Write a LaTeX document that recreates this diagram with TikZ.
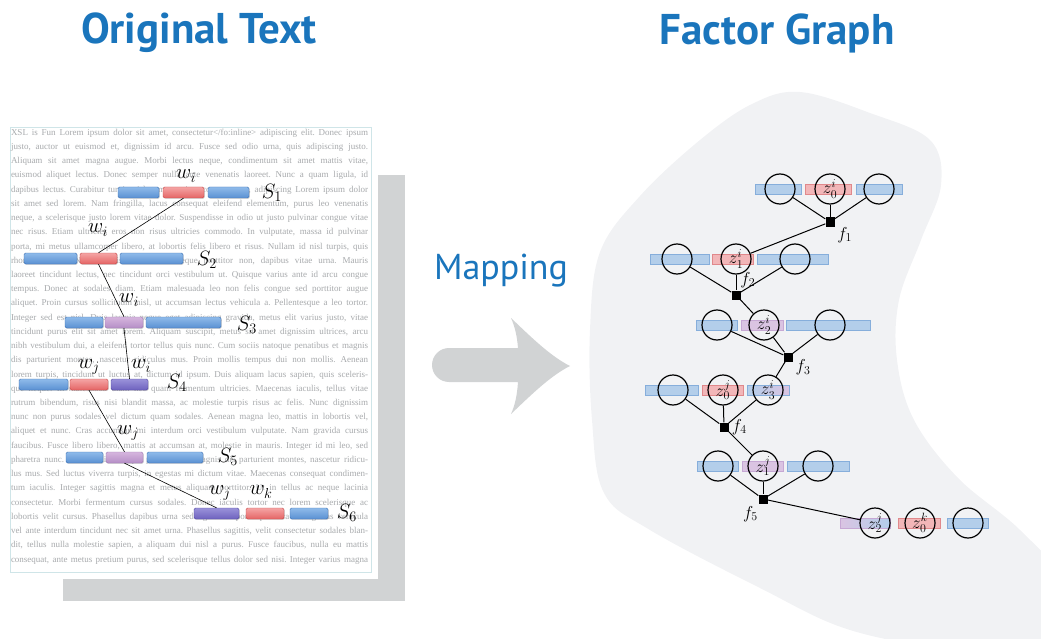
\documentclass[tikz,border=0pt]{standalone}
\usepackage{fontspec}
\newfontfamily\headfont{PT Sans}
\newfontfamily\pagefont{Liberation Serif}
\usetikzlibrary{positioning}
\usetikzlibrary{shapes}
\usetikzlibrary{shadows}
\usetikzlibrary{calc}
\definecolor{headblue}{HTML}{1A75BC}
\definecolor{shadegray}{HTML}{D1D3D4}
\definecolor{pageedge}{HTML}{CFE5E8}
\definecolor{pagetext}{HTML}{A8AAAD}
\definecolor{blobgray}{HTML}{F1F2F4}
\definecolor{wbluetop}{HTML}{8FBBEA}
\definecolor{wbluebot}{HTML}{5A90D2}
\definecolor{wblueedge}{HTML}{3F73B5}
\definecolor{wredtop}{HTML}{F5A5A5}
\definecolor{wredbot}{HTML}{E46464}
\definecolor{wrededge}{HTML}{C84848}
\definecolor{wpurptop}{HTML}{D6B6DE}
\definecolor{wpurpbot}{HTML}{B58EC6}
\definecolor{wpurpedge}{HTML}{9E7AB4}
\definecolor{wdarktop}{HTML}{9A92DA}
\definecolor{wdarkbot}{HTML}{6E62BE}
\definecolor{wdarkedge}{HTML}{5248A2}
\definecolor{sblue}{HTML}{B3CEEA}
\definecolor{sblueedge}{HTML}{86AEDB}
\definecolor{sred}{HTML}{F2B6B8}
\definecolor{srededge}{HTML}{E0888B}
\definecolor{spurp}{HTML}{DAC4E2}
\definecolor{spurpedge}{HTML}{C6A8D4}
\tikzset{%
    head/.style={font={\headfont\bfseries\fontsize{43}{50}\selectfont},text=headblue,inner sep=0pt},
    maplab/.style={font={\headfont\fontsize{36}{42}\selectfont},text=headblue,inner sep=0pt},
    pageline/.style={font={\pagefont\frenchspacing\fontsize{9}{10}\selectfont},text=pagetext,inner sep=0pt},
    wordbox/.style={rectangle,rounded corners=1.5pt,minimum height=11pt,inner sep=0pt,
        drop shadow={shadow xshift=.8pt,shadow yshift=-.8pt,opacity=.3}},
    wblue/.style={wordbox,draw=wblueedge,top color=wbluetop,bottom color=wbluebot},
    wred/.style={wordbox,draw=wrededge,top color=wredtop,bottom color=wredbot},
    wpurp/.style={wordbox,draw=wpurpedge,top color=wpurptop,bottom color=wpurpbot},
    wdark/.style={wordbox,draw=wdarkedge,top color=wdarktop,bottom color=wdarkbot},
    wlab/.style={font={\fontsize{22}{26}\selectfont},inner sep=0pt},
    wlink/.style={semithick},
    seg/.style={rectangle,minimum height=10pt,inner sep=0pt,line width=.6pt},
    sblue/.style={seg,draw=sblueedge,fill=sblue},
    sred/.style={seg,draw=srededge,fill=sred},
    spurp/.style={seg,draw=spurpedge,fill=spurp},
    var/.style={circle,draw,line width=1.2pt,minimum size=30pt,inner sep=0pt,font={\fontsize{17}{20}\selectfont}},
    factor/.style={rectangle,fill=black,minimum size=9pt,inner sep=0pt},
    flab/.style={font={\fontsize{18}{21}\selectfont},inner sep=0pt,label distance=3pt},
    fedge/.style={line width=1pt},
}
\begin{document}
\begin{tikzpicture}[x=1pt,y=-1pt]
\useasboundingbox (0,0) rectangle (1041,639);
\node[head] (ttl1) at (199,33) {Original Text};
\node[head] (ttl2) at (777,33) {Factor Graph};
\node[maplab] (map) at (501,271) {Mapping};

% the page of text
\fill[shadegray] (63,175) rectangle (405,601);
\fill[white] (5,122) rectangle (378,579);
\draw[pageedge] (10,127) rectangle (371,572);
\foreach \ln [count=\k] in {%
  {XSL is Fun Lorem ipsum dolor sit amet, consectetur</fo:inline> adipiscing elit. Donec ipsum},
  {justo, auctor ut euismod et, dignissim id arcu. Fusce sed odio urna, quis adipiscing justo.},
  {Aliquam sit amet magna augue. Morbi lectus neque, condimentum sit amet mattis vitae,},
  {euismod aliquet lectus. Donec semper nulla ante venenatis laoreet. Nunc a quam ligula, id},
  {dapibus lectus. Curabitur turpis nisl, tempor vitae consequat at, adipiscing Lorem ipsum dolor},
  {sit amet sed lorem. Nam fringilla, lacus consequat eleifend elementum, purus leo venenatis},
  {neque, a scelerisque justo lorem vitae dolor. Suspendisse in odio ut justo pulvinar congue vitae},
  {nec risus. Etiam ultricies eros non risus ultricies commodo. In vulputate, massa id pulvinar},
  {porta, mi metus ullamcorper libero, at lobortis felis libero et risus. Nullam id nisl turpis, quis},
  {rhoncus lectus. Nulla facilisi. Sed vitae neque porttitor non, dapibus vitae urna. Mauris},
  {laoreet tincidunt lectus, nec tincidunt orci vestibulum ut. Quisque varius ante id arcu congue},
  {tempus. Donec at sodales diam. Etiam malesuada leo non felis congue sed porttitor augue},
  {aliquet. Proin cursus sollicitudin nisl, ut accumsan lectus vehicula a. Pellentesque a leo tortor.},
  {Integer sed est nisl. Duis lacinia neque eget adipiscing gravida, metus elit varius justo, vitae},
  {tincidunt purus elit sit amet lorem. Aliquam suscipit, metus sit amet dignissim ultrices, arcu},
  {nibh vestibulum dui, a eleifend tortor tellus quis nunc. Cum sociis natoque penatibus et magnis},
  {dis parturient montes, nascetur ridiculus mus. Proin mollis tempus dui non mollis. Aenean},
  {lorem turpis, tincidunt ut luctus at, dictum id ipsum. Duis aliquam lacus sapien, quis sceleris-},
  {que neque. In malesuada diam nec quam fermentum ultricies. Maecenas iaculis, tellus vitae},
  {rutrum bibendum, risus nisi blandit massa, ac molestie turpis risus ac felis. Nunc dignissim},
  {nunc non purus sodales vel dictum quam sodales. Aenean magna leo, mattis in lobortis vel,},
  {aliquet et nunc. Cras accumsan mi interdum orci vestibulum vulputate. Nam gravida cursus},
  {faucibus. Fusce libero libero, mattis at accumsan at, molestie in mauris. Integer id mi leo, sed},
  {pharetra nunc. Cum sociis natoque penatibus et magnis dis parturient montes, nascetur ridicu-},
  {lus mus. Sed luctus viverra turpis, in egestas mi dictum vitae. Maecenas consequat condimen-},
  {tum iaculis. Integer sagittis magna et metus aliquam porttitor. Ut in tellus ac neque lacinia},
  {consectetur. Morbi fermentum cursus sodales. Donec iaculis tortor nec lorem scelerisque ac},
  {lobortis velit cursus. Phasellus dapibus urna sed ligula tempor a pharetra est egestas vehicula},
  {vel ante interdum tincidunt nec sit amet urna. Phasellus sagittis, velit consectetur sodales blan-},
  {dit, tellus nulla molestie sapien, a aliquam dui nisl a purus. Fusce faucibus, nulla eu mattis},
  {consequat, ante metus pretium purus, sed scelerisque tellus dolor sed nisi. Integer varius magna}}
  \node[pageline] (t\k) at (189.5,{133+(\k-1)*14.23}) {\makebox[357pt][s]{\ln}};

% word boxes
\node[wblue,minimum width=41pt] (s1a) at (138.5,192.5) {};
\node[wred,minimum width=41pt] (s1b) at (183.5,192.5) {};
\node[wblue,minimum width=41pt] (s1c) at (228.5,192.5) {};
\node[wblue,minimum width=53pt] (s2a) at (50.5,258.5) {};
\node[wred,minimum width=37pt] (s2b) at (98.5,258.5) {};
\node[wblue,minimum width=63pt] (s2c) at (151.5,258.5) {};
\node[wblue,minimum width=38pt] (s3a) at (84,322.5) {};
\node[wpurp,minimum width=38pt] (s3b) at (124,322.5) {};
\node[wblue,minimum width=75pt] (s3c) at (183.5,322.5) {};
\node[wblue,minimum width=49pt] (s4a) at (43.5,384.5) {};
\node[wred,minimum width=38pt] (s4b) at (89,384.5) {};
\node[wdark,minimum width=37pt] (s4c) at (129.5,384.5) {};
\node[wblue,minimum width=37pt] (s5a) at (84.5,457.5) {};
\node[wpurp,minimum width=37pt] (s5b) at (124.5,457.5) {};
\node[wblue,minimum width=56pt] (s5c) at (175,457.5) {};
\node[wdark,minimum width=45pt] (s6a) at (216.5,513.5) {};
\node[wred,minimum width=38pt] (s6b) at (265,513.5) {};
\node[wblue,minimum width=38pt] (s6c) at (309,513.5) {};
\draw[wlink] (s1b.south) -- (s2b.north);
\draw[wlink] (s2b.south) -- (s3b.north);
\draw[wlink] (s3b.south) -- (s4c.north);
\draw[wlink] (s4b.south) -- (s5b.north);
\draw[wlink] (s5b.south) -- (s6a.north);
\node[wlab] (w1) at (186,176) {$w_i$};
\node[wlab] (w2) at (98,230) {$w_i$};
\node[wlab] (w3) at (129,300) {$w_i$};
\node[wlab] (w4) at (89,367) {$w_j$};
\node[wlab] (w5) at (141,366) {$w_i$};
\node[wlab] (w6) at (128,433) {$w_j$};
\node[wlab] (w7) at (220,493) {$w_j$};
\node[wlab] (w8) at (261,492) {$w_k$};
\node[wlab] (l1) at (272,193) {$S_1$};
\node[wlab] (l2) at (207,260) {$S_2$};
\node[wlab] (l3) at (247,325) {$S_3$};
\node[wlab] (l4) at (177,383) {$S_4$};
\node[wlab] (l5) at (228,457) {$S_5$};
\node[wlab] (l6) at (347,513) {$S_6$};

% mapping arrow
\fill[shadegray] (449,348) -- (518,348) .. controls (517,336) and (515,327) .. (511,318)
  .. controls (530,336) and (550,356) .. (570,366)
  .. controls (550,376) and (530,396) .. (511,414)
  .. controls (515,405) and (517,396) .. (518,382) -- (449,382)
  arc[start angle=270,end angle=90,radius=17pt] -- cycle;

% factor graph
\fill[blobgray] plot[smooth cycle,tension=.6] coordinates {(800,92) (870,113) (930,140)
  (941,185) (921,240) (899,300) (897,360) (914,420) (958,478) (1020,530) (1065,585)
  (1060,650) (960,650) (850,630) (760,588) (650,530) (604,493) (592,420) (590,330)
  (600,252) (640,196) (700,140) (752,104)};
\node[sblue,minimum width=46pt] (b1a) at (778,189) {};
\node[sred,minimum width=46pt] (b1b) at (828,189) {};
\node[sblue,minimum width=46pt] (b1c) at (879,189) {};
\node[sblue,minimum width=59pt] (b2a) at (679.5,259) {};
\node[sred,minimum width=41pt] (b2b) at (732.5,259) {};
\node[sblue,minimum width=71pt] (b2c) at (792.5,259) {};
\node[sblue,minimum width=41pt] (b3a) at (716.5,325) {};
\node[spurp,minimum width=42pt] (b3b) at (762,325) {};
\node[sblue,minimum width=84pt] (b3c) at (828,325) {};
\node[sblue,minimum width=53pt] (b4a) at (671.5,390) {};
\node[sred,minimum width=41pt] (b4b) at (722.5,390) {};
\node[seg,draw=sblueedge,left color=sblue,right color=spurp,minimum width=42pt] (b4c) at (768,390) {};
\node[sblue,minimum width=41pt] (b5a) at (717.5,466) {};
\node[spurp,minimum width=41pt] (b5b) at (762.5,466) {};
\node[sblue,minimum width=62pt] (b5c) at (818,466) {};
\node[seg,draw=spurpedge,left color=spurp,right color=sblue,minimum width=50pt] (b6a) at (865,523) {};
\node[sred,minimum width=42pt] (b6b) at (919,523) {};
\node[sblue,minimum width=41pt] (b6c) at (967.5,523) {};

\node[var] (c1a) at (780,189) {};
\node[var] (z0i) at (830,189) {$z_0^i$};
\node[var] (c1c) at (879,189) {};
\node[var] (c2a) at (677,259) {};
\node[var] (z1i) at (736,259) {$z_1^i$};
\node[var] (c2c) at (795,259) {};
\node[var] (c3a) at (717,325) {};
\node[var] (z2i) at (764,325) {$z_2^i$};
\node[var] (c3c) at (830,325) {};
\node[var] (c4a) at (673,390) {};
\node[var] (z0j) at (723,390) {$z_0^j$};
\node[var] (z3i) at (768,390) {$z_3^i$};
\node[var] (c5a) at (718,466) {};
\node[var] (z1j) at (763,466) {$z_1^j$};
\node[var] (c5c) at (818,466) {};
\node[var] (z2j) at (875,523) {$z_2^j$};
\node[var] (z0k) at (920,523) {$z_0^k$};
\node[var] (c6c) at (968,523) {};

\node[factor,label={[flab]-35:$f_1$}] (f1) at (830,222) {};
\node[factor,label={[flab]60:$f_2$}] (f2) at (736,295) {};
\node[factor,label={[flab]-20:$f_3$}] (f3) at (788,357) {};
\node[factor,label={[flab]0:$f_4$}] (f4) at (724,427) {};
\node[factor,label={[flab]235:$f_5$}] (f5) at (763,499) {};

\draw[fedge] (c1a) -- (f1);
\draw[fedge] (z0i) -- (f1);
\draw[fedge] (c1c) -- (f1);
\draw[fedge] (f1) -- (z1i);
\draw[fedge] (c2a) -- (f2);
\draw[fedge] (z1i) -- (f2);
\draw[fedge] (c2c) -- (f2);
\draw[fedge] (f2) -- (z2i);
\draw[fedge] (c3a) -- (f3);
\draw[fedge] (z2i) -- (f3);
\draw[fedge] (c3c) -- (f3);
\draw[fedge] (f3) -- (z3i);
\draw[fedge] (c4a) -- (f4);
\draw[fedge] (z0j) -- (f4);
\draw[fedge] (z3i) -- (f4);
\draw[fedge] (f4) -- (z1j);
\draw[fedge] (c5a) -- (f5);
\draw[fedge] (z1j) -- (f5);
\draw[fedge] (c5c) -- (f5);
\draw[fedge] (f5) -- (z2j);
\end{tikzpicture}
\end{document}
